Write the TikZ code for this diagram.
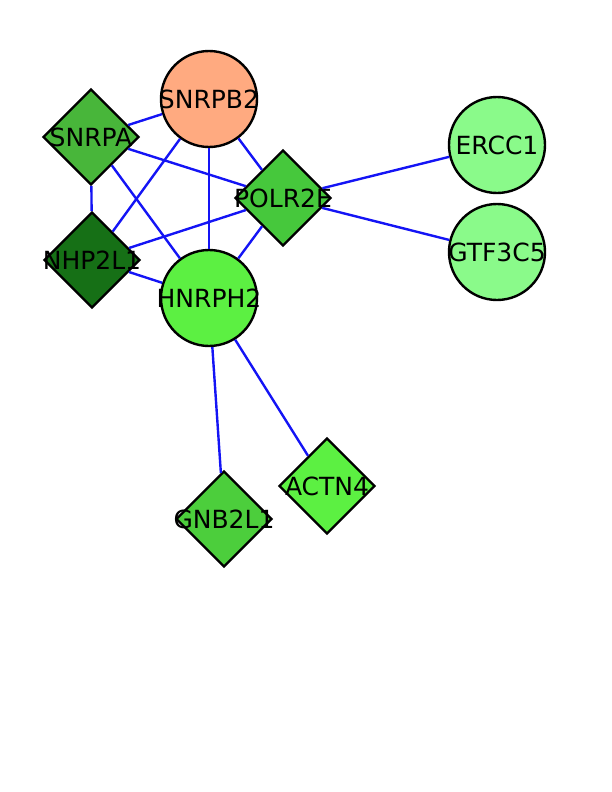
\documentclass[tikz,border=0pt]{standalone}
\usepackage{fontspec}
\setmainfont{DejaVu Sans}
\usetikzlibrary{shapes.geometric}
\definecolor{linkblue}{RGB}{20,20,245}
\definecolor{salmon}{RGB}{255,170,128}
\definecolor{midgreen}{RGB}{72,182,58}
\definecolor{darkgreen}{RGB}{22,112,22}
\definecolor{polgreen}{RGB}{70,200,60}
\definecolor{brightgreen}{RGB}{92,240,66}
\definecolor{palegreen}{RGB}{138,250,138}
\definecolor{gnbgreen}{RGB}{76,206,60}
\tikzset{
  gene/.style={draw=black, line width=2.4pt, minimum size=96pt, inner sep=0pt},
  gcircle/.style={gene, circle},
  gdiamond/.style={gene, diamond, aspect=1},
  glabel/.style={font=\fontsize{25}{25}\selectfont, inner sep=0pt},
  link/.style={draw=linkblue, line width=2.4pt}
}
\begin{document}
\begin{tikzpicture}[x=1pt,y=-1pt]
			\useasboundingbox (0,0) rectangle (612,792);
			\node[gcircle, fill=salmon, label={[glabel]center:SNRPB2}] (snrpb2) at (209,99) {};
			\node[gdiamond, fill=midgreen, label={[glabel]center:SNRPA}] (snrpa) at (91,137) {};
			\node[gdiamond, fill=polgreen, label={[glabel]center:POLR2E}] (polr2e) at (283,198) {};
			\node[gcircle, fill=palegreen, label={[glabel]center:ERCC1}] (ercc1) at (497,145) {};
			\node[gcircle, fill=palegreen, label={[glabel]center:GTF3C5}] (gtf3c5) at (497,252) {};
			\node[gdiamond, fill=darkgreen, label={[glabel]center:NHP2L1}] (nhp2l1) at (92,260) {};
			\node[gcircle, fill=brightgreen, label={[glabel]center:HNRPH2}] (hnrph2) at (209,298) {};
			\node[gdiamond, fill=brightgreen, label={[glabel]center:ACTN4}] (actn4) at (327,486) {};
			\node[gdiamond, fill=gnbgreen, label={[glabel]center:GNB2L1}] (gnb2l1) at (224,519) {};
			% interactions
			\draw[link] (snrpa)--(snrpb2);
			\draw[link] (snrpa)--(polr2e);
			\draw[link] (snrpa)--(hnrph2);
			\draw[link] (snrpa)--(nhp2l1);
			\draw[link] (snrpb2)--(polr2e);
			\draw[link] (snrpb2)--(nhp2l1);
			\draw[link] (snrpb2)--(hnrph2);
			\draw[link] (polr2e)--(ercc1);
			\draw[link] (polr2e)--(gtf3c5);
			\draw[link] (polr2e)--(nhp2l1);
			\draw[link] (polr2e)--(hnrph2);
			\draw[link] (nhp2l1)--(hnrph2);
			\draw[link] (hnrph2)--(gnb2l1);
			\draw[link] (hnrph2)--(actn4);
		\end{tikzpicture}
\end{document}
